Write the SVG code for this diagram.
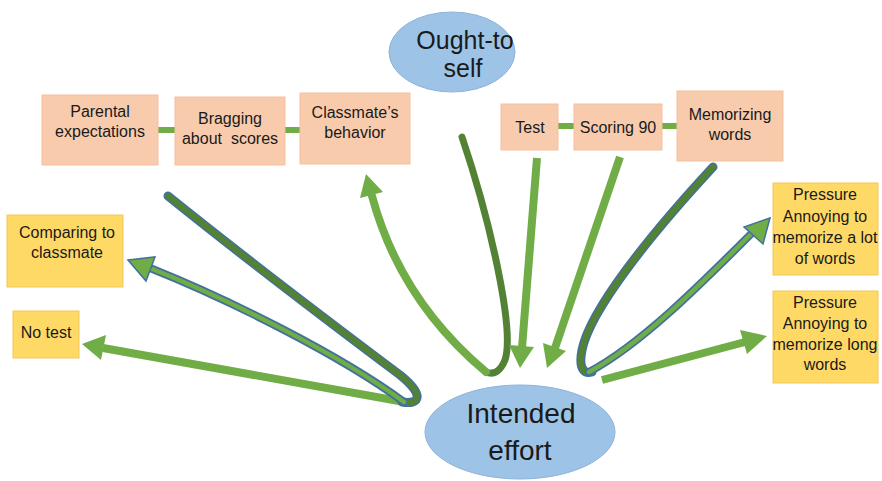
<svg xmlns="http://www.w3.org/2000/svg" width="882" height="481" viewBox="0 0 882 481">
  <style>
    .sal { fill: #F8CBAD; stroke: #F6C0A0; stroke-width: 1; }
    .yel { fill: #FFD966; stroke: #F3C75A; stroke-width: 1; }
    .ell { fill: #9DC3E6; stroke: #8DB3DA; stroke-width: 1; }
    .t { font-family: "Liberation Sans", Arial, sans-serif; font-size: 16px; fill: #1a1a1a; text-anchor: middle; }
    .big { font-size: 25px; }
    .huge { font-size: 28px; }
    .bar { stroke: #70AD47; stroke-width: 6; fill: none; }
    .shaft { stroke: #70AD47; stroke-width: 8; fill: none; }
    .head { fill: #70AD47; }
    .edge { stroke: #41719C; fill: none; stroke-linecap: round; }
    .dark { stroke: #548235; fill: none; stroke-linecap: round; }
    .light { stroke: #70AD47; fill: none; stroke-linecap: round; }
    .headb { fill: #70AD47; stroke: #41719C; stroke-width: 1.5; stroke-linejoin: miter; }
  </style>

  <!-- connectors -->
  <g id="connectors">
    <!-- chain bars -->
    <line class="bar" x1="158" y1="130" x2="175" y2="130"/>
    <line class="bar" x1="285" y1="130" x2="300" y2="130"/>
    <line class="bar" x1="558" y1="126" x2="574" y2="126"/>
    <line class="bar" x1="662" y1="126" x2="677" y2="126"/>

    <!-- Intended effort -> No test -->
    <path class="shaft" d="M410,403 L103,348"/>
    <polygon class="head" points="82,344 106,335 101,360"/>

    <!-- left looped ribbon to Comparing to classmate -->
    <path class="edge" stroke-width="9" d="M168,196 C250,262 340,330 400,375 C425,395 420,405 402,402"/>
    <path class="dark" stroke-width="6" d="M168,196 C250,262 340,330 400,375 C425,395 420,405 402,402"/>
    <path class="edge" stroke-width="8" d="M404,402 C340,355 230,300 150,268"/>
    <path class="light" stroke-width="4.5" d="M404,402 C340,355 230,300 150,268"/>
    <polygon class="headb" points="128,260 155,257 146,281"/>

    <!-- middle loop to Classmate's behavior -->
    <path class="dark" stroke-width="7" d="M462,137 C490,220 515,330 505,360 Q498,377 486,372"/>
    <path class="shaft" stroke-width="8" stroke-linecap="round" d="M486,372 Q400,300 372,196"/>
    <polygon class="head" points="366,174 383,192 360,198"/>

    <!-- Test -> Intended effort -->
    <path class="shaft" stroke-width="7" d="M537,158 L522,348"/>
    <polygon class="head" points="520,368 509,345 534,347"/>

    <!-- Scoring 90 -> Intended effort -->
    <path class="shaft" stroke-width="7" d="M620,157 L555,348"/>
    <polygon class="head" points="547,368 543,343 566,351"/>

    <!-- right looped ribbon to first Pressure box -->
    <path class="edge" stroke-width="9" d="M713,167 C650,235 590,310 582,350 C578,370 585,374 592,372"/>
    <path class="dark" stroke-width="6" d="M713,167 C650,235 590,310 582,350 C578,370 585,374 592,372"/>
    <path class="edge" stroke-width="8" d="M589,372 C640,345 700,285 752,233"/>
    <path class="light" stroke-width="4.5" d="M589,372 C640,345 700,285 752,233"/>
    <polygon class="headb" points="770,218 763,244 744,227"/>

    <!-- Intended effort -> second Pressure box -->
    <path class="shaft" d="M602,380 L745,342"/>
    <polygon class="head" points="767,336 747,354 740,330"/>
  </g>

  <!-- ellipses -->
  <g id="ought-to-self">
    <ellipse class="ell" cx="452" cy="52" rx="63" ry="40"/>
    <text class="t big" x="465" y="49">Ought-to</text>
    <text class="t big" x="463" y="77">self</text>
  </g>
  <g id="intended-effort">
    <ellipse class="ell" cx="520" cy="432" rx="95" ry="47"/>
    <text class="t huge" x="521" y="423">Intended</text>
    <text class="t huge" x="520" y="460">effort</text>
  </g>

  <!-- left chain -->
  <g id="parental-expectations">
    <rect class="sal" x="42" y="95" width="116" height="70"/>
    <text class="t" x="100" y="117">Parental</text>
    <text class="t" x="100" y="137">expectations</text>
  </g>
  <g id="bragging-about-scores">
    <rect class="sal" x="175" y="97" width="110" height="68"/>
    <text class="t" x="230" y="124">Bragging</text>
    <text class="t" x="230" y="144" xml:space="preserve">about  scores</text>
  </g>
  <g id="classmates-behavior">
    <rect class="sal" x="300" y="93" width="110" height="71"/>
    <text class="t" x="355" y="118">Classmate’s</text>
    <text class="t" x="355" y="138">behavior</text>
  </g>

  <!-- right chain -->
  <g id="test">
    <rect class="sal" x="501" y="104" width="57" height="46"/>
    <text class="t" x="530" y="133">Test</text>
  </g>
  <g id="scoring-90">
    <rect class="sal" x="574" y="104" width="88" height="46"/>
    <text class="t" x="618" y="133">Scoring 90</text>
  </g>
  <g id="memorizing-words">
    <rect class="sal" x="677" y="91" width="106" height="70"/>
    <text class="t" x="730" y="120">Memorizing</text>
    <text class="t" x="730" y="140">words</text>
  </g>

  <!-- outcomes -->
  <g id="comparing-to-classmate">
    <rect class="yel" x="7" y="215" width="116" height="72"/>
    <text class="t" x="67" y="238">Comparing to</text>
    <text class="t" x="67" y="258">classmate</text>
  </g>
  <g id="no-test">
    <rect class="yel" x="13" y="311" width="66" height="47"/>
    <text class="t" x="46" y="338">No test</text>
  </g>
  <g id="pressure-lot-of-words">
    <rect class="yel" x="773" y="183" width="105" height="92"/>
    <text class="t" x="825" y="200">Pressure</text>
    <text class="t" x="825" y="222">Annoying to</text>
    <text class="t" x="825" y="243">memorize a lot</text>
    <text class="t" x="825" y="264">of words</text>
  </g>
  <g id="pressure-long-words">
    <rect class="yel" x="773" y="291" width="105" height="92"/>
    <text class="t" x="825" y="308">Pressure</text>
    <text class="t" x="825" y="329">Annoying to</text>
    <text class="t" x="825" y="350">memorize long</text>
    <text class="t" x="825" y="370">words</text>
  </g>
</svg>
